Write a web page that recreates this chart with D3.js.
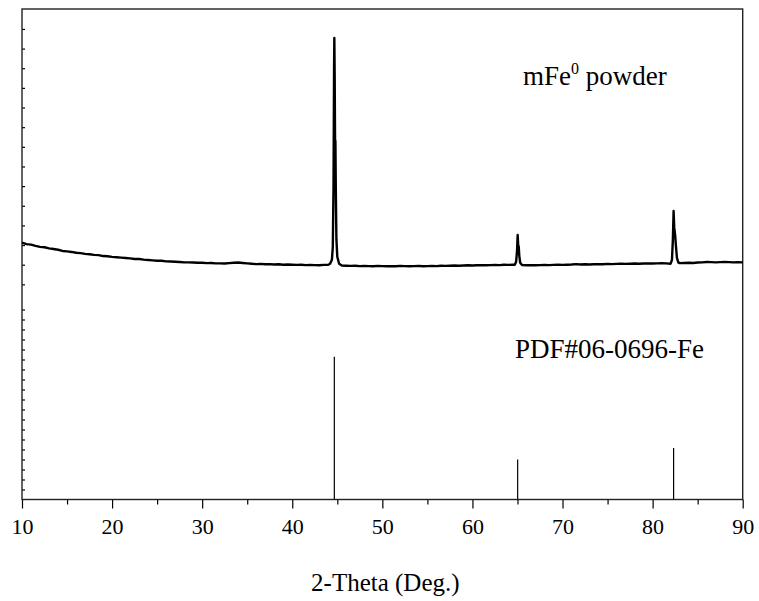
<!DOCTYPE html>
<html>
<head>
<meta charset="utf-8">
<script src="https://cdn.jsdelivr.net/npm/d3@7"></script>
<style>
  body { margin: 0; background: #fff; }
  svg { display: block; font-family: "Liberation Serif", "Times New Roman", serif; }
  .axis path { display: none; }
  .axis line { stroke: #000; stroke-width: 1.2; }
  .axis text { font-family: "Liberation Serif", "Times New Roman", serif; font-size: 22px; fill: #000; }
</style>
</head>
<body>
<div class="visualization"></div>
<script>
const canvaswidth = 759;
const canvasheight = 601;
const plotleft = 22, plotright = 742.7, plottop = 9, plotbottom = 499.5;

// measured pattern, 2-theta in degrees and intensity (a.u.)
const twoTheta = [
  10.0, 10.5, 11.0, 11.5, 12.0, 12.5, 13.0, 13.5, 14.0, 14.5, 15.0, 15.5, 16.0, 16.5, 17.0, 17.5,
  18.0, 18.5, 19.0, 19.5, 20.0, 20.5, 21.0, 21.5, 22.0, 22.5, 23.0, 23.5, 24.0, 24.5, 25.0, 25.5,
  26.0, 26.5, 27.0, 27.5, 28.0, 28.5, 29.0, 29.5, 30.0, 30.5, 31.0, 31.5, 32.0, 32.5, 33.0, 33.5,
  34.0, 34.5, 35.0, 35.5, 36.0, 36.5, 37.0, 37.5, 38.0, 38.5, 39.0, 39.5, 40.0, 40.5, 41.0, 41.5,
  42.0, 42.5, 43.0, 43.5, 44.0, 44.2, 44.4, 44.5, 44.58, 44.64, 44.67, 44.71, 44.75, 44.79, 44.83,
  44.9, 45.0, 45.2, 45.5, 46.0, 46.5, 47.0, 47.5, 48.0, 48.5, 49.0, 49.5, 50.0, 50.5, 51.0, 51.5,
  52.0, 52.5, 53.0, 53.5, 54.0, 54.5, 55.0, 55.5, 56.0, 56.5, 57.0, 57.5, 58.0, 58.5, 59.0, 59.5,
  60.0, 60.5, 61.0, 61.5, 62.0, 62.5, 63.0, 63.5, 64.0, 64.5, 64.7, 64.85, 64.95, 65.02, 65.08,
  65.14, 65.2, 65.3, 65.5, 66.0, 66.5, 67.0, 67.5, 68.0, 68.5, 69.0, 69.5, 70.0, 70.5, 71.0, 71.5,
  72.0, 72.5, 73.0, 73.5, 74.0, 74.5, 75.0, 75.5, 76.0, 76.5, 77.0, 77.5, 78.0, 78.5, 79.0, 79.5,
  80.0, 80.5, 81.0, 81.5, 82.0, 82.15, 82.25, 82.33, 82.4, 82.5, 82.58, 82.7, 82.85, 83.0, 83.5,
  84.0, 84.5, 85.0, 85.5, 86.0, 86.5, 87.0, 87.5, 88.0, 88.5, 89.0, 89.5, 90.0
];
const intensity = [
  312, 305, 302, 296, 291, 289, 283, 280, 276, 270, 268, 265, 261, 259, 255, 253,
  250, 249, 244, 243, 240, 238, 236, 234, 232, 229, 229, 226, 224, 222, 220, 220,
  217, 216, 215, 214, 212, 212, 211, 210, 210, 208, 209, 207, 207, 206, 208, 210,
  211, 209, 207, 205, 203, 204, 202, 203, 201, 202, 200, 201, 200, 199, 200, 198,
  199, 198, 197, 199, 200, 205, 225, 290, 600, 1200, 1354, 1150, 835, 830, 600,
  330, 240, 205, 196, 195, 194, 195, 193, 194, 193, 192, 194, 193, 192, 193, 192,
  194, 193, 192, 193, 194, 192, 193, 194, 193, 195, 194, 195, 196, 195, 196, 197,
  196, 197, 198, 197, 198, 199, 198, 200, 199, 200, 200, 215, 270, 351, 300,
  292, 245, 210, 198, 197, 198, 197, 198, 199, 198, 199, 200, 199, 200, 201, 203,
  201, 202, 201, 202, 203, 202, 204, 203, 204, 205, 204, 205, 206, 205, 206, 207,
  206, 207, 208, 207, 205, 225, 330, 473, 390, 351, 300, 235, 212, 208, 209,
  210, 209, 211, 212, 214, 213, 212, 213, 214, 213, 212, 213, 212
];

// reference card PDF#06-0696 (Fe)
const pdfTheta = [44.67, 65.02, 82.33];
const pdfIntensity = [100, 28, 36];

const xTicks = [10, 20, 30, 40, 50, 60, 70, 80, 90];
const xMinorTicks = [15, 25, 35, 45, 55, 65, 75, 85];

var svgCanvas = d3.select(".visualization").
append("svg").
attr("width", canvaswidth).
attr("height", canvasheight);

var xscale = d3.scaleLinear().domain([10, 90]).range([plotleft, plotright]);
var yscale = d3.scaleLinear().domain([0, 1500]).range([304, plottop + 0.3]);
var pdfscale = d3.scaleLinear().domain([0, 140]).range([plotbottom, 299.5]);

// left inner ticks
svgCanvas.append('g').
attr('class', 'axis').
attr('transform', 'translate(' + plotleft + ',0)').
call(d3.axisRight(yscale).tickValues(d3.range(100, 1500, 100)).tickSize(3).tickFormat(''));

svgCanvas.append('g').
attr('class', 'axis').
attr('transform', 'translate(' + plotleft + ',0)').
call(d3.axisRight(pdfscale).tickValues(d3.range(7, 140, 7)).tickSize(3).tickFormat(''));

// bottom axis
svgCanvas.append('g').
attr('class', 'axis').
attr('transform', 'translate(0,' + plotbottom + ')').
call(d3.axisBottom(xscale).tickValues(xTicks).tickSize(9).tickPadding(10).tickFormat(d3.format('d')));

svgCanvas.append('g').
attr('class', 'axis').
attr('transform', 'translate(0,' + plotbottom + ')').
call(d3.axisBottom(xscale).tickValues(xMinorTicks).tickSize(5).tickFormat(''));

// frame
svgCanvas.append('rect').
attr('x', plotleft).
attr('y', plottop).
attr('width', plotright - plotleft).
attr('height', plotbottom - plottop).
attr('fill', 'none').
attr('stroke', '#222').
attr('stroke-width', 1.4);

// measured pattern
var line = d3.line().
x((d, i) => xscale(twoTheta[i])).
y(d => yscale(d));

svgCanvas.append('path').
datum(intensity).
attr('d', line).
attr('fill', 'none').
attr('stroke', '#000').
attr('stroke-width', 2.4).
attr('stroke-linejoin', 'round');

// reference sticks
svgCanvas.selectAll('line.stick').
data(pdfIntensity).
enter().
append('line').
attr('class', 'stick').
attr('x1', (d, i) => xscale(pdfTheta[i])).
attr('x2', (d, i) => xscale(pdfTheta[i])).
attr('y1', pdfscale(0)).
attr('y2', d => pdfscale(d)).
attr('stroke', '#000').
attr('stroke-width', 1.2);

// labels
var lab = svgCanvas.append('text').
attr('x', 523).
attr('y', 85).
attr('font-size', 27).
text('mFe');
lab.append('tspan').
attr('font-size', 16).
attr('dy', -11).
text('0');
lab.append('tspan').
attr('dy', 11).
text(' powder');

svgCanvas.append('text').
attr('x', 515).
attr('y', 358).
attr('font-size', 27).
text('PDF#06-0696-Fe');

svgCanvas.append('text').
attr('x', (plotleft + plotright) / 2 + 3).
attr('y', 591).
attr('text-anchor', 'middle').
attr('font-size', 25).
text('2-Theta (Deg.)');
</script>
</body>
</html>
